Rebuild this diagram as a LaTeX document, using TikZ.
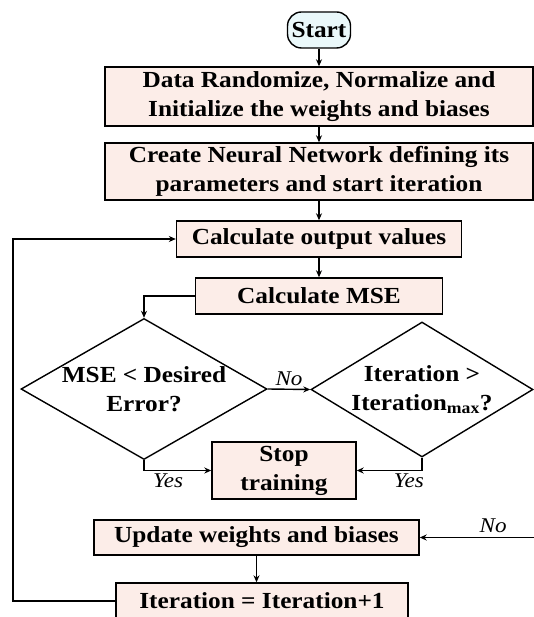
\documentclass[tikz,border=0pt]{standalone}
\usepackage{fontspec}
\setmainfont{Liberation Serif}[FakeStretch=1.1]
\usetikzlibrary{positioning,shapes.geometric,arrows.meta}

\definecolor{boxpink}{RGB}{252,237,232}
\definecolor{startcyan}{RGB}{234,248,250}

\begin{document}
\begin{tikzpicture}[x=1pt,y=-1pt,
				font=\bfseries\fontsize{23}{29}\selectfont,
				>={Stealth[length=7pt,width=6pt]},
				line width=1.4pt,
				procbox/.style={rectangle, draw=black, fill=boxpink, align=center, inner sep=0pt, minimum height=36pt},
				startnode/.style={rectangle, rounded corners=14pt, draw=black, fill=startcyan, inner sep=0pt, minimum width=63pt, minimum height=36pt},
				decision/.style={diamond, draw=black, fill=white, inner sep=0pt},
				answer/.style={font=\mdseries\itshape\fontsize{21}{24}\selectfont, inner sep=0pt},
				]
		\useasboundingbox (0,0) rectangle (534,617);
		\clip (0,0) rectangle (534,617);

				%Nodes
				\node[startnode]	(start)	at (319,30)	{Start};
				\node[procbox, minimum width=428pt, minimum height=59pt]	(init)	at (319,96.5)	{Data Randomize, Normalize and\\Initialize the weights and biases};
				\node[procbox, minimum width=428pt, minimum height=57pt]	(create)	at (319,171.5)	{Create Neural Network defining its\\parameters and start iteration};
				\node[procbox, minimum width=285pt]	(calc)	at (319,239)	{Calculate output values};
				\node[procbox, minimum width=247pt]	(mse)	at (319,296)	{Calculate MSE};
				\node[decision, minimum width=246pt, minimum height=141pt, label={[align=center]center:MSE < Desired\\Error?}]	(errchk)	at (144,389)	{};
				\node[decision, minimum width=222pt, minimum height=135pt, label={[align=center]center:Iteration >\\Iteration\textsubscript{max}?}]	(iterchk)	at (422,389.5)	{};
				\node[procbox, minimum width=144pt, minimum height=57pt]	(stop)	at (284,470.5)	{Stop\\training};
				\node[procbox, minimum width=325pt, minimum height=35pt]	(update)	at (256.5,537.5)	{Update weights and biases};
				\node[procbox, minimum width=292pt]	(incr)	at (262,601)	{Iteration = Iteration+1};
				\coordinate	(noin)	at (540,537.5);
				\coordinate	(loopleft)	at (13,0);

				%Lines
				\draw[->]	(start.south) -- (init.north);
				\draw[->]	(init.south) -- (create.north);
				\draw[->]	(create.south) -- (calc.north);
				\draw[->]	(calc.south) -- (mse.north);
				\draw[->]	(mse.west) -| (errchk.north);
				\draw[->]	(errchk.east) -- node[answer, above=3pt] {No} (iterchk.west);
				\draw[->]	(errchk.south) |- node[answer, pos=0.68, below=3pt] {Yes} (stop.west);
				\draw[->]	(iterchk.south) |- node[answer, pos=0.6, below=3pt] {Yes} (stop.east);
				\draw[->]	(noin) -- node[answer, pos=0.39, above=4pt] {No} (update.east);
				\draw[->]	(update.south) -- (update.south |- incr.north);
				\draw[->]	(incr.west) -- (incr.west -| loopleft) |- (calc.west);
			\end{tikzpicture}
\end{document}
